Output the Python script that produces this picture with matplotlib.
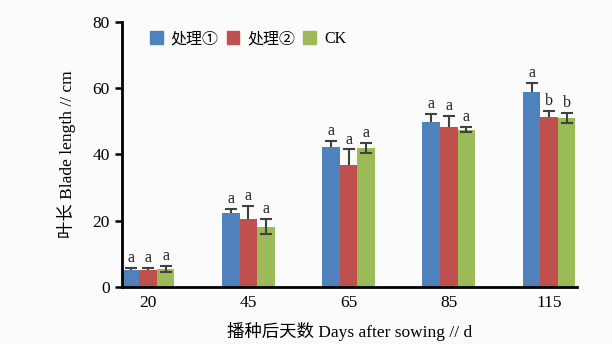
import matplotlib
matplotlib.use('Agg')
import matplotlib.pyplot as plt
from matplotlib.patches import Patch
import numpy as np

plt.rcParams['font.family'] = ['Liberation Serif', 'Noto Sans CJK SC']

days = ['20', '45', '65', '85', '115']
series = ['处理①', '处理②', 'CK']
colours = ['#4F81BD', '#C0504D', '#9BBB59']

t1 = [5.1, 22.3, 42.2, 49.7, 58.8]
t2 = [5.0, 20.4, 36.9, 48.2, 51.3]
ck = [5.4, 18.2, 41.9, 47.5, 51.0]

t1_err = [0.6, 1.2, 1.9, 2.6, 2.7]
t2_err = [0.8, 4.1, 4.6, 3.3, 1.7]
ck_err = [1.0, 2.3, 1.6, 0.8, 1.6]

t1_sig = ['a', 'a', 'a', 'a', 'a']
t2_sig = ['a', 'a', 'a', 'a', 'b']
ck_sig = ['a', 'a', 'a', 'a', 'b']

values = [t1, t2, ck]
errors = [t1_err, t2_err, ck_err]
letters = [t1_sig, t2_sig, ck_sig]

fig = plt.figure(figsize = (6.12, 3.44), dpi = 100)
fig.patch.set_facecolor('#fbfbfb')
ax = fig.add_axes([0.199, 0.166, 0.744, 0.770])
ax.set_facecolor('#fbfbfb')

x = np.arange(len(days))
w = 0.175
ecol = '#404040'
for k in range(3):
    pos = x + (k - 1) * w
    val = np.array(values[k])
    err = np.array(errors[k])
    ax.bar(pos, val, width = w, color = colours[k], zorder = 2)
    if k < 2:
        # upper half only, cap on top
        ax.errorbar(pos, val, yerr = [np.zeros(len(days)), err], fmt = 'none',
                    ecolor = ecol, elinewidth = 1.5, capsize = 0, zorder = 3)
        ax.plot(pos, val + err, ls = 'none', marker = '_', ms = 8,
                mew = 1.5, color = ecol, zorder = 3)
    else:
        ax.errorbar(pos, val, yerr = err, fmt = 'none', ecolor = ecol,
                    elinewidth = 1.5, capsize = 4, capthick = 1.5, zorder = 3)
    for i in range(len(days)):
        ax.text(pos[i], val[i] + err[i] + 0.6, letters[k][i],
                ha = 'center', va = 'bottom', fontsize = 11.5, color = '#222222')

ax.set_xlim(-0.2625, 4.28)
ax.set_ylim(0, 80)
ax.set_yticks([0, 20, 40, 60, 80])
ax.set_xticks(x)
ax.set_xticklabels(days)
ax.tick_params(axis = 'y', length = 5, width = 1.8, labelsize = 12.5)
ax.tick_params(axis = 'x', length = 0, labelsize = 12.5, pad = 6)
for s in ['top', 'right']:
    ax.spines[s].set_visible(False)
for s in ['left', 'bottom']:
    ax.spines[s].set_linewidth(2)

ax.set_ylabel('叶长 Blade length // cm', fontsize = 12.5, labelpad = 12)
ax.set_xlabel('播种后天数 Days after sowing // d', fontsize = 12.5, labelpad = 8)

handles = [Patch(color = c) for c in colours]
ax.legend(handles, series, loc = 'upper left', bbox_to_anchor = (0.03, 1.02),
          ncol = 3, frameon = False, fontsize = 11.5, handlelength = 0.8,
          handleheight = 0.8, handletextpad = 0.5, columnspacing = 0.5)

fig.savefig('out.png', dpi = 100, facecolor = fig.get_facecolor())
